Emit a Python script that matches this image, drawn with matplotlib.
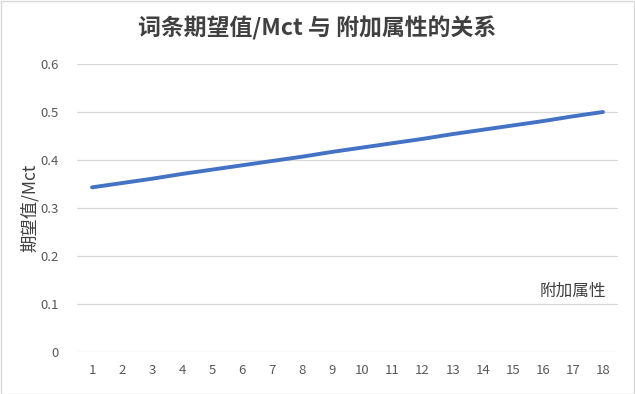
import matplotlib
matplotlib.use("Agg")
import matplotlib.pyplot as plt
import numpy as np

plt.rcParams['font.family'] = ['Noto Sans CJK SC', 'DejaVu Sans']

# Data
attrs = list(range(1, 19))
values = [0.343, 0.352, 0.361, 0.371, 0.380, 0.389, 0.398, 0.407, 0.417,
          0.426, 0.435, 0.444, 0.454, 0.463, 0.472, 0.481, 0.491, 0.500]
yticks = [0, 0.1, 0.2, 0.3, 0.4, 0.5, 0.6]
ytick_labels = ['0', '0.1', '0.2', '0.3', '0.4', '0.5', '0.6']

fig = plt.figure(figsize=(6.35, 3.94), dpi=100)
ax = fig.add_axes([77 / 635, 1 - 352 / 394, 541 / 635, 288 / 394])

# Line
ax.plot(attrs, values, color='#4472C4', linewidth=2.8, solid_capstyle='round')

# Axes setup
ax.set_xlim(0.5, 18.5)
ax.set_ylim(0, 0.6)
ax.set_xticks(attrs)
ax.set_xticklabels([str(a) for a in attrs])
ax.set_yticks(yticks)
ax.set_yticklabels(ytick_labels)
ax.grid(True, axis='y', color='#D9D9D9', linewidth=0.9)
ax.set_axisbelow(True)
for s in ax.spines.values():
    s.set_visible(False)
ax.tick_params(axis='both', length=0, labelsize=9.5, colors='#595959')
ax.tick_params(axis='x', pad=9)
ax.tick_params(axis='y', pad=13)

# Labels
fig.text(317 / 635, 1 - 28 / 394, '词条期望值/Mct 与 附加属性的关系', ha='center', va='center',
         fontsize=16.5, fontweight='bold', color='#404040')
fig.text(30 / 635, 1 - 208 / 394, '期望值/Mct', rotation=90, ha='center', va='center',
         fontsize=12.5, color='#404040')
fig.text(573 / 635, 1 - 291 / 394, '附加属性', ha='center', va='center',
         fontsize=12, color='#404040')

# Figure border
fig.patches.append(plt.Rectangle((0.001, 0.001), 0.997, 0.997, transform=fig.transFigure,
                                 fill=False, edgecolor='#D9D9D9', linewidth=1))

plt.savefig('out.png', dpi=100)
